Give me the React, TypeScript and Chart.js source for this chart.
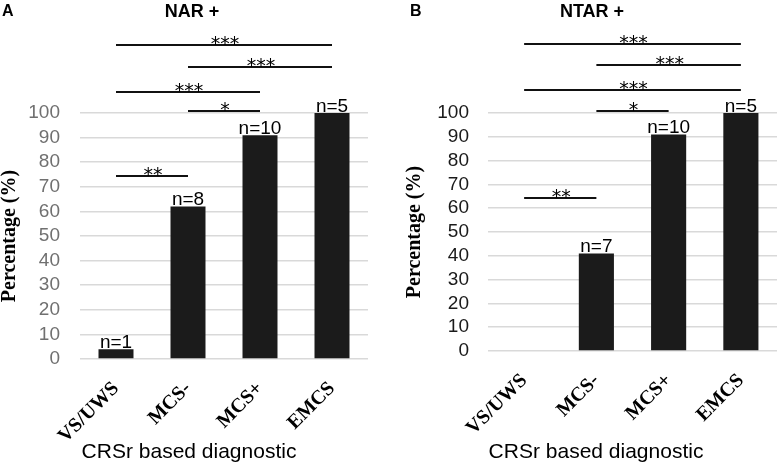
import React, { useEffect, useRef } from 'react';
import { Chart, registerables } from 'chart.js';

Chart.register(...registerables);

const categories = ['VS/UWS', 'MCS-', 'MCS+', 'EMCS'];
const valuesA = [4, 62, 91, 100];
const valuesB = [0, 41, 91, 100];
const nLabelsA = ['n=1', 'n=8', 'n=10', 'n=5'];
const nLabelsB = ['', 'n=7', 'n=10', 'n=5'];
const yTicks = [0, 10, 20, 30, 40, 50, 60, 70, 80, 90, 100];

// significance brackets: from category index, to category index, level (in %), label
const bracketFromA = [0, 1, 0, 1, 0];
const bracketToA = [3, 3, 2, 2, 1];
const bracketLevelA = [127.5, 118.9, 108.4, 100.7, 74.2];
const bracketLabelA = ['***', '***', '***', '*', '**'];

const bracketFromB = [0, 1, 0, 1, 0];
const bracketToB = [3, 3, 3, 2, 1];
const bracketLevelB = [129, 120.3, 109.6, 100.7, 64.1];
const bracketLabelB = ['***', '***', '***', '*', '**'];

const SANS = '"Liberation Sans", Arial, sans-serif';
const SERIF = '"Liberation Serif", "Times New Roman", serif';
const STAR = '"DejaVu Sans", sans-serif';

type PanelProps = {
  values: number[];
  nLabels: string[];
  from: number[];
  to: number[];
  level: number[];
  label: string[];
  tickColor: string;
  tickPadding: number;
  yAxisWidth: number;
  xAxisHeight: number;
  rightPad: number;
  titlePad: number;
  width: number;
};

function Panel(p: PanelProps) {
  const ref = useRef<HTMLCanvasElement | null>(null);
  useEffect(() => {
    if (!ref.current) return;
    const annot = {
      id: 'annot',
      afterDatasetsDraw(chart: any) {
        const ctx = chart.ctx;
        const meta = chart.getDatasetMeta(0);
        ctx.save();
        ctx.fillStyle = '#000';
        ctx.font = `19px ${SANS}`;
        ctx.textAlign = 'center';
        ctx.textBaseline = 'alphabetic';
        meta.data.forEach((bar: any, i: number) => {
          if (p.nLabels[i]) ctx.fillText(p.nLabels[i], bar.x, bar.y - 1);
        });
        const xs = chart.scales.x;
        const ys = chart.scales.y;
        ctx.strokeStyle = '#111';
        ctx.lineWidth = 2;
        ctx.font = `19px ${STAR}`;
        for (let i = 0; i < p.from.length; i++) {
          const x1 = xs.getPixelForValue(p.from[i]);
          const x2 = xs.getPixelForValue(p.to[i]);
          const y = Math.round(ys.getPixelForValue(p.level[i]));
          ctx.beginPath();
          ctx.moveTo(x1, y);
          ctx.lineTo(x2, y);
          ctx.stroke();
          ctx.fillText(p.label[i], (x1 + x2) / 2 + 1, y + 5);
        }
        ctx.restore();
      },
    };
    const chart = new Chart(ref.current, {
      type: 'bar',
      data: {
        labels: categories,
        datasets: [
          {
            data: p.values,
            backgroundColor: '#1b1b1b',
            borderWidth: 0,
            barPercentage: 0.486,
            categoryPercentage: 1,
          },
        ],
      },
      options: {
        animation: false,
        responsive: false,
        devicePixelRatio: 1,
        layout: { padding: { top: 113, right: p.rightPad, left: 0, bottom: 0 } },
        plugins: { legend: { display: false }, tooltip: { enabled: false } },
        scales: {
          x: {
            grid: { display: false },
            border: { display: false },
            ticks: {
              minRotation: 45,
              maxRotation: 45,
              autoSkip: false,
              color: '#000',
              padding: 10,
              font: { family: SERIF, weight: 'bold', size: 20 },
            },
            afterFit: (s: any) => {
              s.height = p.xAxisHeight;
            },
          },
          y: {
            min: 0,
            max: 100,
            grid: { color: '#d9d9d9', lineWidth: 1.5, drawTicks: false },
            border: { display: false },
            ticks: {
              autoSkip: false,
              color: p.tickColor,
              padding: p.tickPadding,
              font: { family: SANS, size: 19 },
            },
            afterBuildTicks: (s: any) => {
              s.ticks = yTicks.map((v) => ({ value: v }));
            },
            afterFit: (s: any) => {
              s.width = p.yAxisWidth;
            },
            title: {
              display: true,
              text: 'Percentage (%)',
              color: '#000',
              padding: { top: p.titlePad, bottom: 0 },
              font: { family: SERIF, weight: 'bold', size: 20, lineHeight: 1 },
            },
          },
        },
      },
      plugins: [annot],
    } as any);
    return () => chart.destroy();
  }, []);
  return <canvas ref={ref} width={p.width} height={462} style={{ display: 'block' }} />;
}

const textBase: React.CSSProperties = { position: 'absolute', whiteSpace: 'nowrap', color: '#000' };

export default function App() {
  return (
    <div style={{ position: 'absolute', left: 0, top: 0, width: 777, height: 462, background: '#fff', overflow: 'hidden' }}>
      <div style={{ position: 'absolute', left: 0, top: 0 }}>
        <Panel
          values={valuesA}
          nLabels={nLabelsA}
          from={bracketFromA}
          to={bracketToA}
          level={bracketLevelA}
          label={bracketLabelA}
          tickColor="#707070"
          tickPadding={20}
          yAxisWidth={80}
          xAxisHeight={103}
          rightPad={20}
          titlePad={0}
          width={388}
        />
      </div>
      <div style={{ position: 'absolute', left: 388, top: 0 }}>
        <Panel
          values={valuesB}
          nLabels={nLabelsB}
          from={bracketFromB}
          to={bracketToB}
          level={bracketLevelB}
          label={bracketLabelB}
          tickColor="#1a1a1a"
          tickPadding={19}
          yAxisWidth={100}
          xAxisHeight={111}
          rightPad={0}
          titlePad={17}
          width={389}
        />
      </div>
      <div style={{ ...textBase, left: 2, top: 3, font: `bold 16px ${SANS}`, lineHeight: '16px' }}>A</div>
      <div style={{ ...textBase, left: 410, top: 3, font: `bold 16px ${SANS}`, lineHeight: '16px' }}>B</div>
      <div style={{ ...textBase, left: 192, top: 2, transform: 'translateX(-50%)', font: `bold 18px ${SANS}`, lineHeight: '18px' }}>NAR +</div>
      <div style={{ ...textBase, left: 592, top: 2, transform: 'translateX(-50%)', font: `bold 18px ${SANS}`, lineHeight: '18px' }}>NTAR +</div>
      <div style={{ ...textBase, left: 189, top: 440, transform: 'translateX(-50%)', font: `21px ${SANS}`, lineHeight: '21px' }}>CRSr based diagnostic</div>
      <div style={{ ...textBase, left: 596, top: 440, transform: 'translateX(-50%)', font: `21px ${SANS}`, lineHeight: '21px' }}>CRSr based diagnostic</div>
    </div>
  );
}
